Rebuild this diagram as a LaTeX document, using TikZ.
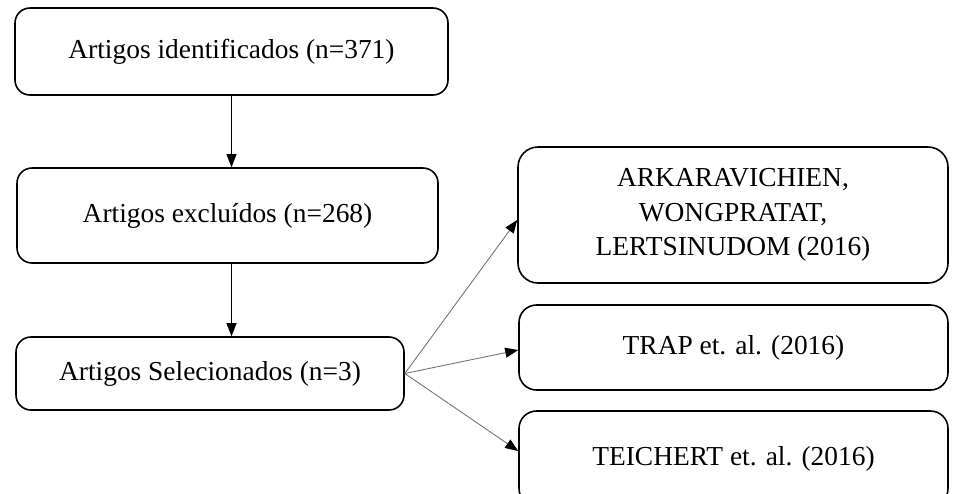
\documentclass[tikz,border=0pt]{standalone}
\usepackage{fontspec}
\setmainfont{Liberation Serif}
\usetikzlibrary{arrows.meta}
\begin{document}
\begin{tikzpicture}[
      box/.style={draw,line width=0.9pt,rounded corners=0.3cm,inner sep=0pt,
         font=\fontsize{15.6}{19.5}\selectfont},
      down/.style={-{Triangle[length=0.26cm,width=0.2cm]},line width=0.6pt},
      fan/.style={-{Triangle[length=0.26cm,width=0.2cm,black]},line width=0.5pt,black!55}]
      \useasboundingbox (0,0) rectangle (19.06,-9.86);
      \node[box,minimum width=8.66cm,minimum height=1.74cm] (ident) at (4.63,-1.03) {Artigos identificados (n=371)};
      \node[box,minimum width=8.42cm,minimum height=1.90cm] (excl) at (4.55,-4.31) {Artigos excluídos (n=268)};
      \node[box,minimum width=7.76cm,minimum height=1.46cm] (sel) at (4.20,-7.47) {Artigos Selecionados (n=3)};
      \node[box,align=center,rounded corners=0.4cm,minimum width=8.60cm,minimum height=2.72cm] (arka) at (14.66,-4.30) {ARKARAVICHIEN,\\WONGPRATAT,\\LERTSINUDOM (2016)};
      \node[box,rounded corners=0.35cm,minimum width=8.58cm,minimum height=1.70cm] (trap) at (14.67,-6.95) {TRAP et. al. (2016)};
      \node[box,rounded corners=0.35cm,minimum width=8.58cm,minimum height=1.90cm] (teich) at (14.67,-9.17) {TEICHERT et. al. (2016)};
      \draw[down] (ident.south) -- (ident.south |- excl.north);
      \draw[down] (ident.south |- excl.south) -- (ident.south |- sel.north);
      \draw[fan] (sel.east) -- ([yshift=-0.1cm]arka.west);
      \draw[fan] (sel.east) -- ([yshift=-0.05cm]trap.west);
      \draw[fan] (sel.east) -- ([yshift=0.15cm]teich.west);
   \end{tikzpicture}
\end{document}
